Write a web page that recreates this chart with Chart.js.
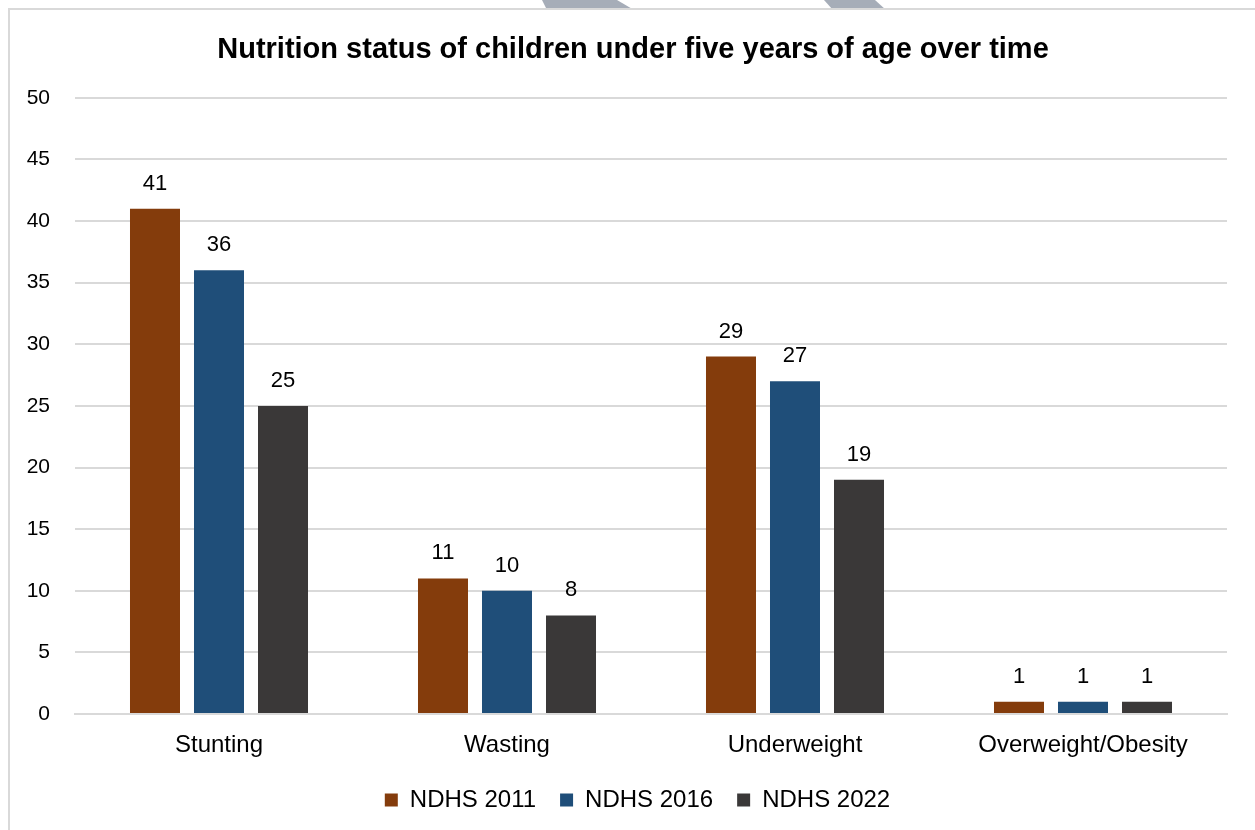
<!DOCTYPE html>
<html>
<head>
<meta charset="utf-8">
<script src="https://cdn.jsdelivr.net/npm/chart.js@4"></script>
<style>
  html, body { margin: 0; padding: 0; background: #ffffff; }
  #wrap { position: relative; width: 1255px; height: 830px; overflow: hidden; }
  #deco { position: absolute; left: 0; top: 0; }
  #frame { position: absolute; left: 8px; top: 8px; width: 1300px; height: 900px;
           border-left: 2px solid #d9d9d9; border-top: 2px solid #d9d9d9; }
  #chart { position: absolute; left: 0; top: 0; }
</style>
</head>
<body>
<div id="wrap">
  <svg id="deco" width="1255" height="12">
    <polygon points="542,0 617,0 634,10 547,10" fill="#a6adb8"/>
    <polygon points="824,0 875,0 886,10 833,10" fill="#a6adb8"/>
  </svg>
  <div id="frame"></div>
  <canvas id="chart" width="1255" height="830"></canvas>
</div>
<script>
// Nutrition indicators (percent of children under five)
const categories = ['Stunting', 'Wasting', 'Underweight', 'Overweight/Obesity'];
const seriesNames = ['NDHS 2011', 'NDHS 2016', 'NDHS 2022'];
const ndhs2011 = [41, 11, 29, 1];
const ndhs2016 = [36, 10, 27, 1];
const ndhs2022 = [25, 8, 19, 1];
const yTicks = [0, 5, 10, 15, 20, 25, 30, 35, 40, 45, 50];
const colors = ['#843C0C', '#1F4E79', '#3A3838'];

const FONT = "'Liberation Sans', Arial, sans-serif";

// Writes each bar's value just above it
const valueLabels = {
  id: 'valueLabels',
  afterDatasetsDraw(chart) {
    const ctx = chart.ctx;
    ctx.save();
    ctx.font = '22px ' + FONT;
    ctx.fillStyle = '#000000';
    ctx.textAlign = 'center';
    ctx.textBaseline = 'bottom';
    chart.data.datasets.forEach((ds, i) => {
      chart.getDatasetMeta(i).data.forEach((bar, j) => {
        ctx.fillText(String(ds.data[j]), bar.x, bar.y - 14);
      });
    });
    ctx.restore();
  }
};

// Nudges the title and the legend row to the right, under the plot
const blockShift = {
  id: 'blockShift',
  afterLayout(chart) {
    if (chart.legend) { chart.legend.left += 28; }
    if (chart.titleBlock) { chart.titleBlock.left += 19; }
  }
};

new Chart(document.getElementById('chart'), {
  type: 'bar',
  data: {
    labels: categories,
    datasets: [ndhs2011, ndhs2016, ndhs2022].map((vals, i) => ({
      label: seriesNames[i],
      data: vals,
      backgroundColor: colors[i],
      borderWidth: 0,
      categoryPercentage: 0.6667,
      barPercentage: 0.78125
    }))
  },
  options: {
    responsive: false,
    animation: false,
    layout: { padding: { left: 20, right: 28, top: 10, bottom: 8 } },
    plugins: {
      title: {
        display: true,
        text: 'Nutrition status of children under five years of age over time',
        color: '#000000',
        font: { family: FONT, size: 29, weight: 'bold' },
        padding: { top: 23, bottom: 30 }
      },
      legend: {
        position: 'bottom',
        labels: {
          color: '#000000',
          font: { family: FONT, size: 24 },
          boxWidth: 13,
          boxHeight: 13,
          padding: 24
        }
      },
      tooltip: { enabled: false }
    },
    scales: {
      x: {
        afterFit(scale) { scale.height = 50; },
        grid: { display: false, drawTicks: false },
        border: { display: true, color: '#d9d9d9', width: 2 },
        ticks: { color: '#000000', font: { family: FONT, size: 24 }, padding: 17 }
      },
      y: {
        min: 0,
        max: 50,
        afterFit(scale) { scale.width = 55; },
        afterBuildTicks(scale) { scale.ticks = yTicks.map(v => ({ value: v })); },
        grid: { color: '#d9d9d9', lineWidth: 2, drawTicks: false },
        border: { display: false },
        ticks: { color: '#000000', font: { family: FONT, size: 21 }, padding: 25 }
      }
    }
  },
  plugins: [valueLabels, blockShift]
});
</script>
</body>
</html>
